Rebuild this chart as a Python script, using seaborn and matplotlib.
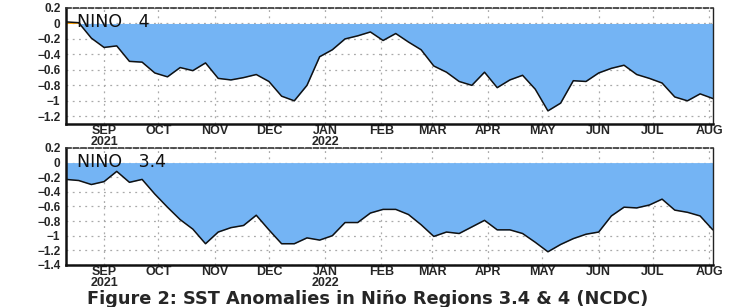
import numpy as np
import pandas as pd
import matplotlib
matplotlib.use("Agg")
import matplotlib.pyplot as plt
from matplotlib.ticker import FixedLocator, FuncFormatter
import seaborn as sns

# weekly SST anomalies (deg C), Wednesdays 2021-08-11 .. 2022-08-03
weeks = pd.date_range("2021-08-11", periods=52, freq="7D")

nino4 = [0.02, 0.01, -0.19, -0.31, -0.29, -0.49, -0.50, -0.64, -0.69, -0.57,
         -0.61, -0.51, -0.71, -0.73, -0.70, -0.66, -0.75, -0.94, -1.00, -0.80,
         -0.43, -0.34, -0.20, -0.16, -0.11, -0.22, -0.13, -0.24, -0.34, -0.55,
         -0.63, -0.75, -0.80, -0.63, -0.83, -0.73, -0.67, -0.85, -1.13, -1.03,
         -0.74, -0.75, -0.64, -0.58, -0.54, -0.66, -0.71, -0.77, -0.95, -1.00,
         -0.91, -0.97]

nino34 = [-0.23, -0.245, -0.30, -0.26, -0.12, -0.27, -0.23, -0.43, -0.61, -0.78,
          -0.91, -1.11, -0.95, -0.89, -0.86, -0.72, -0.92, -1.11, -1.11, -1.03,
          -1.06, -1.00, -0.82, -0.82, -0.69, -0.64, -0.64, -0.71, -0.85, -1.01,
          -0.95, -0.97, -0.88, -0.79, -0.92, -0.92, -0.97, -1.09, -1.22, -1.12,
          -1.04, -0.98, -0.95, -0.73, -0.61, -0.62, -0.58, -0.50, -0.65, -0.68,
          -0.73, -0.92]

month_ticks = pd.date_range("2021-09-01", "2022-08-01", freq="MS")
month_labels = ["SEP\n2021", "OCT", "NOV", "DEC", "JAN\n2022", "FEB",
                "MAR", "APR", "MAY", "JUN", "JUL", "AUG"]

panels = [
    ("NINO   4", nino4, (-1.3, 0.2), np.arange(-1.2, 0.21, 0.2)),
    ("NINO   3.4", nino34, (-1.4, 0.2), np.arange(-1.4, 0.21, 0.2)),
]


def fmt_y(v, pos):
    v = round(v, 1)
    if v == 0:
        return "0"
    return f"{v:g}".replace("-", "\u2212")


sns.set_style("white")
plt.rcParams["font.family"] = ["Liberation Sans", "DejaVu Sans"]

fig = plt.figure(figsize=(7.35, 3.07), dpi=100)
boxes = [[0.0898, 0.596, 0.880, 0.378], [0.0898, 0.137, 0.880, 0.381]]

blue = "#74b4f4"
orange = "#ffa000"

for box, (name, vals, ylim, yt) in zip(boxes, panels):
    ax = fig.add_axes(box)
    df = pd.DataFrame({"week": weeks, "anom": vals})
    y = df["anom"].to_numpy()
    ax.fill_between(df["week"], 0, y, where=y <= 0, interpolate=True,
                    color=blue, linewidth=0)
    ax.fill_between(df["week"], 0, y, where=y >= 0, interpolate=True,
                    color=orange, linewidth=0)
    sns.lineplot(data=df, x="week", y="anom", ax=ax, color="#111111",
                 linewidth=1.1, legend=False)
    ax.set_xlim(weeks[0], weeks[-1])
    ax.set_ylim(*ylim)
    ax.set_xlabel("")
    ax.set_ylabel("")

    ax.yaxis.set_major_locator(FixedLocator(yt))
    ax.yaxis.set_major_formatter(FuncFormatter(fmt_y))
    ax.set_xticks(month_ticks)
    ax.set_xticklabels(month_labels, linespacing=0.85)
    ax.tick_params(axis="y", labelsize=8.5, length=3, width=1, pad=1,
                   direction="out")
    ax.tick_params(axis="x", labelsize=9, pad=1, length=0)
    for lab in ax.get_xticklabels() + ax.get_yticklabels():
        lab.set_fontweight("bold")

    ax.grid(True, color="#aaaaaa", linestyle=(0, (1.5, 3.5)), linewidth=0.9)
    for g in ax.get_xgridlines() + ax.get_ygridlines():
        g.set_zorder(2.5)

    for side in ["left", "bottom"]:
        ax.spines[side].set_linewidth(1.8)
        ax.spines[side].set_color("#111111")
    ax.spines["right"].set_linewidth(1.0)
    ax.spines["right"].set_color("#222222")
    ax.spines["top"].set_linewidth(1.2)
    ax.spines["top"].set_color("#333333")
    ax.spines["top"].set_linestyle((0, (3, 1.5)))

    ax.text(0.017, 0.955, name, transform=ax.transAxes, fontsize=12.5,
            color="#111111", va="top", ha="left", zorder=5,
            family=["DejaVu Sans"])

fig.text(0.5, 0.026, "Figure 2: SST Anomalies in Niño Regions 3.4 & 4 (NCDC)",
         ha="center", va="center", fontsize=12.8, fontweight="bold",
         family=["DejaVu Sans"])

fig.savefig("out.png", dpi=100)
